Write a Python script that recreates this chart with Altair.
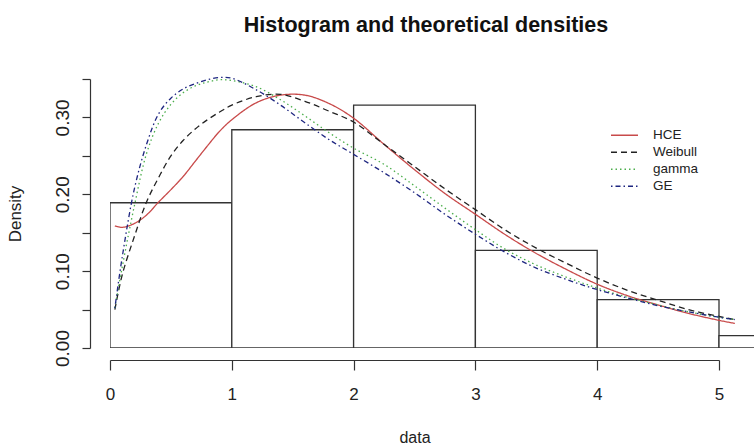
import altair as alt
import pandas as pd

# ---------------- data ----------------
bin_start = [0, 1, 2, 3, 4, 5]
bin_end = [1, 2, 3, 4, 5, 6]
bin_density = [0.189, 0.284, 0.316, 0.127, 0.063, 0.016]

x_grid = [0.04, 0.1, 0.2, 0.3, 0.4, 0.5, 0.6, 0.7, 0.8, 0.9, 1.0, 1.2, 1.4, 1.6,
          1.8, 2.0, 2.25, 2.5, 2.75, 3.0, 3.25, 3.5, 3.75, 4.0, 4.25, 4.5, 4.75,
          5.0, 5.13]
hce = [0.159, 0.157, 0.162, 0.173, 0.190, 0.206, 0.223, 0.243, 0.263, 0.282,
       0.297, 0.319, 0.329, 0.329, 0.318, 0.299, 0.265, 0.232, 0.201, 0.174,
       0.147, 0.123, 0.102, 0.083, 0.068, 0.056, 0.045, 0.036, 0.032]
weibull = [0.050, 0.095, 0.145, 0.190, 0.222, 0.250, 0.270, 0.285, 0.297, 0.307,
           0.316, 0.327, 0.330, 0.321, 0.308, 0.294, 0.265, 0.236, 0.207, 0.180,
           0.153, 0.130, 0.110, 0.091, 0.075, 0.062, 0.050, 0.041, 0.037]
gamma = [0.052, 0.105, 0.185, 0.253, 0.293, 0.317, 0.332, 0.341, 0.346, 0.349,
         0.348, 0.340, 0.323, 0.302, 0.280, 0.260, 0.239, 0.211, 0.182, 0.154,
         0.128, 0.108, 0.092, 0.078, 0.066, 0.056, 0.047, 0.040, 0.037]
ge = [0.052, 0.118, 0.207, 0.265, 0.305, 0.325, 0.337, 0.344, 0.349, 0.352,
      0.351, 0.336, 0.316, 0.293, 0.271, 0.252, 0.228, 0.202, 0.174, 0.148,
      0.124, 0.104, 0.089, 0.076, 0.065, 0.055, 0.047, 0.040, 0.037]

series_names = ["HCE", "Weibull", "gamma", "GE"]
series_colors = ["#c84a4a", "#222222", "#4cae4c", "#1e2680"]
series_dash = [[1, 0], [6, 4], [1.5, 3], [1.5, 3, 5, 3]]

x_ticks = [0, 1, 2, 3, 4, 5]
y_ticks = [0, 0.05, 0.10, 0.15, 0.20, 0.25, 0.30, 0.35]

FONT = "Liberation Sans"

# ---------------- tables ----------------
hist_df = pd.DataFrame({"start": bin_start, "end": bin_end,
                        "density": bin_density, "zero": [0] * len(bin_start)})

rows = []
for name, vals in zip(series_names, [hce, weibull, gamma, ge]):
    for i, (xv, yv) in enumerate(zip(x_grid, vals)):
        rows.append({"series": name, "x": xv, "y": yv, "i": i})
curve_df = pd.DataFrame(rows)

xscale = alt.Scale(domain=[0, 5], range=[0, 609], nice=False, zero=False)
yscale = alt.Scale(domain=[0, 0.35], range=[288, 19], nice=False, zero=False)

x_axis = alt.Axis(values=x_ticks, format="d", tickSize=10, labelFontSize=17,
                  labelFont=FONT, labelPadding=16, offset=12, grid=False,
                  labelFlush=False, labelBound=False,
                  domainColor="#333333", tickColor="#333333", labelColor="#222222",
                  domainWidth=1.2, tickWidth=1.2,
                  title="data", titleFont=FONT, titleFontSize=16,
                  titleFontWeight="normal", titleColor="#222222", titlePadding=27)
y_axis = alt.Axis(values=y_ticks,
                  labelExpr="round(datum.value*100) % 10 == 0 ? format(datum.value, '.2f') : ''",
                  labelOverlap=False, labelFlush=False, labelBound=False,
                  labelAngle=-90, labelAlign="center",
                  labelBaseline="alphabetic", labelPadding=14, tickSize=8,
                  labelFontSize=19, labelFont=FONT, labelColor="#222222",
                  offset=20, grid=False, domainColor="#333333", tickColor="#333333",
                  domainWidth=1.2, tickWidth=1.2,
                  title="Density", titleFont=FONT, titleFontSize=17,
                  titleFontWeight="normal", titleColor="#222222", titlePadding=29)

bars = alt.Chart(hist_df).mark_rect(
    fill="white", stroke="#333333", strokeWidth=1.3, clip=True
).encode(
    x=alt.X("start:Q", scale=xscale, axis=x_axis),
    x2="end:Q",
    y=alt.Y("density:Q", scale=yscale, axis=y_axis),
    y2="zero:Q",
)

legend = alt.Legend(orient="none", legendX=500, legendY=67, title=None,
                    symbolType="stroke", symbolSize=729, symbolStrokeWidth=1.3,
                    labelFont=FONT, labelFontSize=13.5, labelColor="#222222",
                    labelOffset=14, clipHeight=16.5, rowPadding=0, padding=0)

lines = alt.Chart(curve_df).mark_line(strokeWidth=1.3, interpolate="catmull-rom", clip=True).encode(
    x=alt.X("x:Q", scale=xscale, axis=x_axis),
    y=alt.Y("y:Q", scale=yscale, axis=y_axis),
    color=alt.Color("series:N", scale=alt.Scale(domain=series_names, range=series_colors),
                    legend=legend),
    strokeDash=alt.StrokeDash("series:N", scale=alt.Scale(domain=series_names, range=series_dash),
                              legend=legend),
    order="i:Q",
)

chart = alt.layer(bars, lines).properties(
    width=644, height=288,
    background="white",
    autosize=alt.AutoSizeParams(type="none"),
    padding={"left": 110, "top": 60, "right": 0, "bottom": 98},
    title=alt.TitleParams("Histogram and theoretical densities", font=FONT,
                          fontSize=21.5, fontWeight="bold", color="#111111",
                          anchor="middle", dx=-6, offset=24),
).configure_view(strokeWidth=0, stroke="transparent").configure_axis(grid=False)

chart.save("out.html", embed_options={"renderer": "svg", "actions": False})
